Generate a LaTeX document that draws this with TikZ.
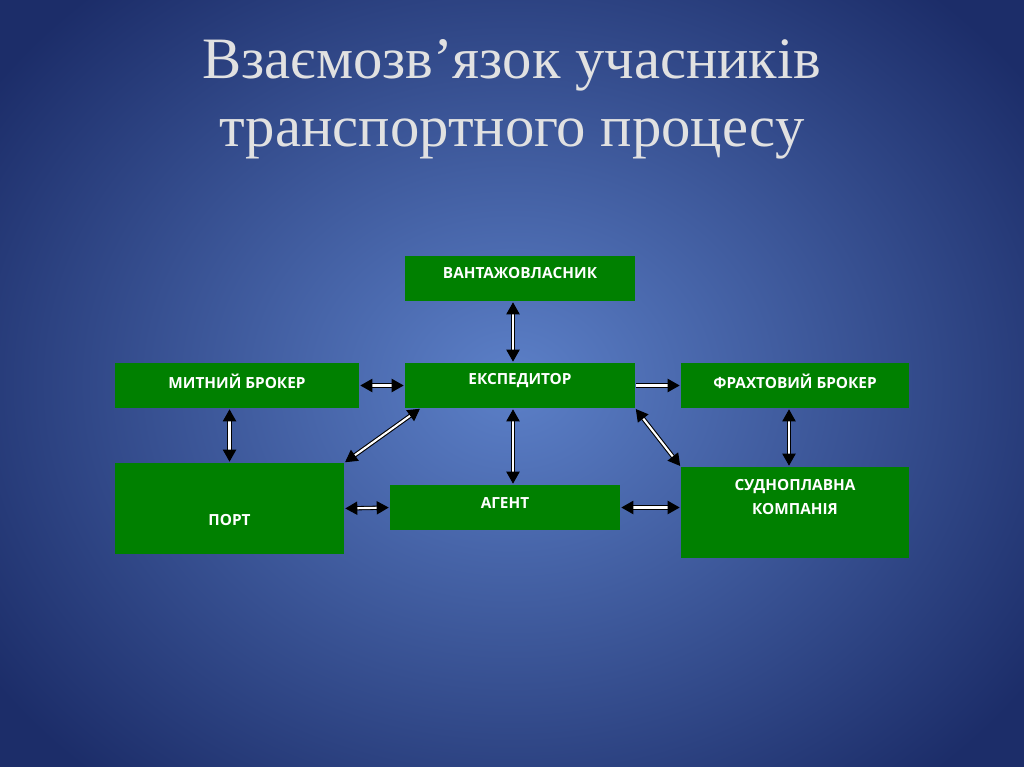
\documentclass[tikz,border=0pt]{standalone}
\usepackage{fontspec}
\setmainfont{Liberation Serif}
\newfontfamily\boxfont{Open Sans}
\usetikzlibrary{arrows.meta}
\definecolor{bgin}{RGB}{92,128,200}
\definecolor{bgout}{RGB}{28,45,105}
\definecolor{boxg}{RGB}{0,128,0}
\definecolor{ttl}{RGB}{225,225,225}
\begin{document}
\begin{tikzpicture}[x=0.75pt,y=-0.75pt,
  box/.style={fill=boxg,draw=none,minimum width=#1*0.75pt,inner sep=0pt,outer sep=0pt},
  lbl/.style={text=white,font=\boxfont\bfseries\fontsize{11.5}{18}\selectfont,align=center},
  dar/.style={draw=black,line width=0.8pt,double=white,double distance=1.6pt,
    {Triangle[length=9pt,width=10pt]}-{Triangle[length=9pt,width=10pt]},shorten <=1pt,shorten >=1pt},
  sar/.style={dar,-{Triangle[length=9pt,width=10pt]}}]
\useasboundingbox (0,0) rectangle (1024,767);
\clip (0,0) rectangle (1024,767);
\shade[inner color=bgin,outer color=bgout] (-120,-140) rectangle (1144,907);
\node[text=ttl,font=\fontsize{44}{51}\selectfont,align=center] (title) at (512,99)
  {Взаємозв’язок учасників\\транспортного процесу};
\node[box=230,minimum height=45*0.75pt] (vant) at (520,278.5) {};
\node[lbl] (tvant) at (520,273) {ВАНТАЖОВЛАСНИК};
\node[box=244,minimum height=45*0.75pt] (mit) at (237,385.5) {};
\node[lbl] at (237,381) {МИТНИЙ БРОКЕР};
\node[box=230,minimum height=45*0.75pt] (exp) at (520,385.5) {};
\node[lbl] at (520,381) {ЕКСПЕДИТОР};
\node[box=228,minimum height=45*0.75pt] (fr) at (795,385.5) {};
\node[lbl] at (795,381) {ФРАХТОВИЙ БРОКЕР};
\node[box=229,minimum height=91*0.75pt] (port) at (229.5,508.5) {};
\node[lbl] at (229.5,520) {ПОРТ};
\node[box=230,minimum height=45*0.75pt] (ag) at (505,507.5) {};
\node[lbl] at (505,503) {АГЕНТ};
\node[box=228,minimum height=91*0.75pt] (sud) at (795,512.5) {};
\node[lbl] at (795,497) {СУДНОПЛАВНА\\КОМПАНІЯ};
\draw[dar] ([xshift=-5.25pt]vant.south) -- ([xshift=-5.25pt]exp.north);
\draw[dar] (mit.east) -- (exp.west);
\draw[sar] (exp.east) -- (fr.west);
\draw[dar] ([xshift=-5.6pt]mit.south) -- ([xshift=-5.6pt]mit.south |- port.north);
\draw[dar] ([xshift=12pt]exp.south west) -- (port.north east);
\draw[dar] ([xshift=-5.25pt]exp.south) -- ([xshift=-5.25pt]exp.south |- ag.north);
\draw[dar] (exp.south east) -- (sud.north west);
\draw[dar] ([xshift=-4.5pt]fr.south) -- ([xshift=-4.5pt]fr.south |- sud.north);
\draw[dar] (port.east) -- (ag.west);
\draw[dar] (ag.east) -- (ag.east -| sud.west);
\end{tikzpicture}
\end{document}
